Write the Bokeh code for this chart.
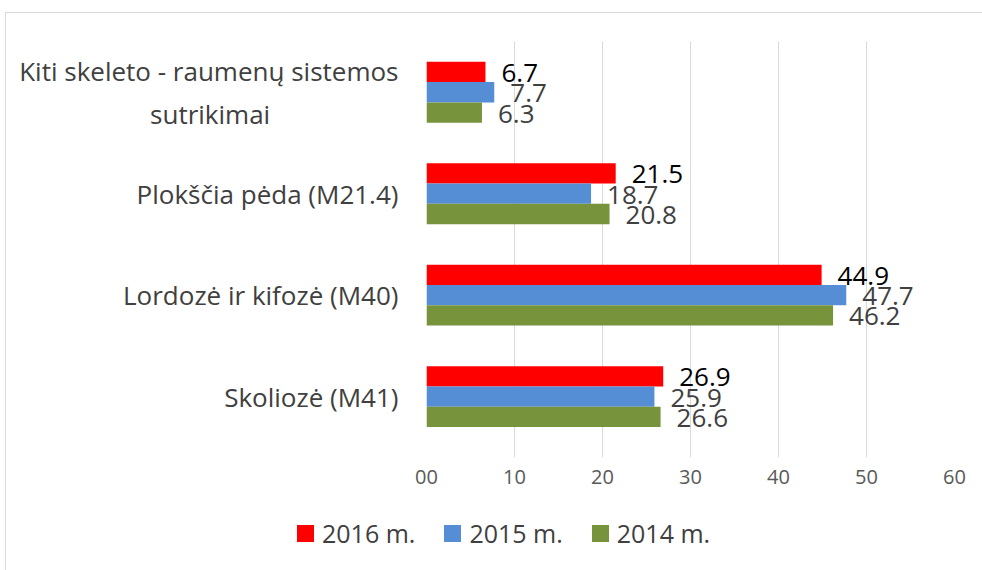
from bokeh.plotting import figure
from bokeh.layouts import column
from bokeh.models import Range1d, FixedTicker, ColumnDataSource, Div
from bokeh.core.properties import value
from bokeh.embed import file_html
from bokeh.resources import INLINE

# ---- data ----
categories = ["Skoliozė (M41)", "Lordozė ir kifozė (M40)", "Plokščia pėda (M21.4)",
              "Kiti skeleto - raumenų sistemos\nsutrikimai" + "\u00a0" * 19]
v2016 = [26.9, 44.9, 21.5, 6.7]
v2015 = [25.9, 47.7, 18.7, 7.7]
v2014 = [26.6, 46.2, 20.8, 6.3]
series_names = ["2016 m.", "2015 m.", "2014 m."]
series_values = [v2016, v2015, v2014]
colors = ["#FF0000", "#558ED5", "#77933C"]
label_colors = ["#000000", "#404040", "#404040"]
x_ticks = [0, 10, 20, 30, 40, 50, 60]
x_tick_labels = ["00", "10", "20", "30", "40", "50", "60"]

FONT = "Open Sans"
cat_pos = list(range(len(categories)))
offsets = [0.2, 0.0, -0.2]

W = 975
p = figure(width=W, height=484, output_backend="svg", toolbar_location=None,
           x_range=Range1d(0, 60), y_range=Range1d(-0.6, 3.5),
           min_border_left=420, min_border_right=27, min_border_top=28, min_border_bottom=40)

p.outline_line_color = None
p.background_fill_color = "white"
p.border_fill_color = "white"
p.ygrid.grid_line_color = None
p.xgrid.grid_line_color = "#D9D9D9"
p.xgrid.grid_line_width = 1

for name, vals, col, lcol, off in zip(series_names, series_values, colors, label_colors, offsets):
    src = ColumnDataSource(dict(y=[c + off for c in cat_pos], x=vals,
                                t=[f"{v:.1f}" for v in vals]))
    p.hbar(y="y", right="x", left=0, height=0.2, source=src,
           fill_color=col, line_color=None, legend_label=name)
    p.text(x="x", y="y", text="t", source=src, x_offset=16, y_offset=1,
           text_baseline="middle", text_align="left",
           text_font=value(FONT), text_font_size="26px", text_color=lcol)
p.legend.visible = False

# axes
p.xaxis.ticker = FixedTicker(ticks=x_ticks)
p.xaxis.major_label_overrides = {t: l for t, l in zip(x_ticks, x_tick_labels)}
p.xaxis.axis_line_color = None
p.xaxis.major_tick_line_color = None
p.xaxis.minor_tick_line_color = None
p.xaxis.major_tick_out = 0
p.xaxis.major_tick_in = 0
p.xaxis.major_label_standoff = 12
p.xaxis.major_label_text_font = FONT
p.xaxis.major_label_text_font_size = "20px"
p.xaxis.major_label_text_color = "#595959"

p.yaxis.ticker = FixedTicker(ticks=cat_pos)
p.yaxis.major_label_overrides = {c: l for c, l in zip(cat_pos, categories)}
p.yaxis.axis_line_color = None
p.yaxis.major_tick_line_color = None
p.yaxis.minor_tick_line_color = None
p.yaxis.major_tick_out = 0
p.yaxis.major_tick_in = 0
p.yaxis.major_label_standoff = 28
p.yaxis.major_label_text_font = FONT
p.yaxis.major_label_text_font_size = "26px"
p.yaxis.major_label_text_color = "#404040"

# legend strip (HTML text)
item_html = "".join(
    f'<span style="display:inline-flex;align-items:center;margin-right:29px;">'
    f'<span style="display:inline-block;width:17px;height:17px;background:{c};margin-right:8px;"></span>'
    f'<span>{n}</span></span>'
    for n, c in zip(series_names, colors))
legend_div = Div(
    text=f'<div style="padding-left:286px;padding-top:13px;font-family:\'Open Sans\';'
         f'font-size:25px;line-height:35px;color:#404040;white-space:nowrap;">{item_html}</div>',
    width=W, height=70)

layout = column(p, legend_div, spacing=0)
layout.styles = {"margin-left": "5px", "margin-top": "12px",
                 "border-left": "1px solid #D9D9D9", "border-top": "1px solid #D9D9D9"}

open("out.html", "w").write(file_html(layout, INLINE))
